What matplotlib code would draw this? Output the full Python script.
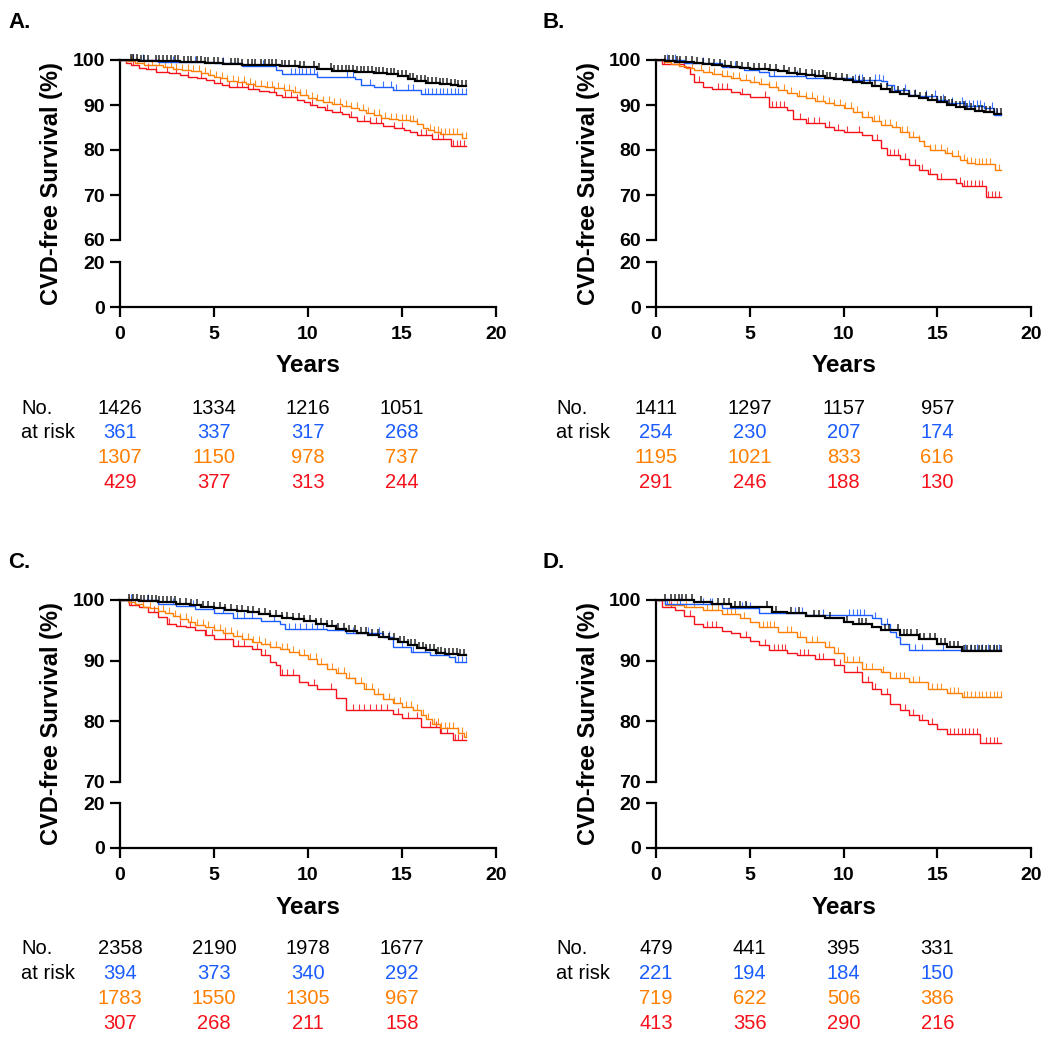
import numpy as np
import matplotlib
matplotlib.use('Agg')
import matplotlib.pyplot as plt
from matplotlib.path import Path
from matplotlib.transforms import blended_transform_factory

plt.rcParams['font.family'] = ['Liberation Sans', 'DejaVu Sans']

W, H = 1050, 1039
COLORS = {'black': '#000000', 'blue': '#1a5cff', 'orange': '#ff7f00', 'red': '#f5101a'}
DRAW_ORDER = ['red', 'orange', 'blue', 'black']
TABLE_ORDER = ['black', 'blue', 'orange', 'red']
END_TIME = 18.4
RISK_TIMES = [0, 5, 10, 15]
X_TICKS = [0, 5, 10, 15, 20]

# ---------------- Panel A ----------------
A_black_t = [0, 1.0, 2.0, 3.2, 4.5, 5.5, 6.5, 7.5, 8.5, 9.5, 10.5, 11.3, 12.5, 13.5, 14.2, 14.8, 15.3, 15.7, 16.3, 17.0, 17.6, 18.0]
A_black_s = [100, 99.8, 99.7, 99.5, 99.3, 99.1, 99.0, 98.8, 98.6, 98.4, 98.1, 97.6, 97.4, 97.2, 96.8, 96.4, 95.8, 95.3, 95.0, 94.7, 94.4, 94.3]
A_blue_t = [0, 2.0, 5.0, 6.5, 8.3, 8.6, 10.5, 12.5, 12.8, 13.5, 14.5, 16.0]
A_blue_s = [100, 99.6, 99.3, 98.7, 97.8, 96.9, 96.3, 95.7, 94.4, 93.9, 93.3, 92.5]
A_orange_t = [0, 0.3, 0.8, 1.3, 1.8, 2.3, 2.8, 3.3, 3.8, 4.3, 4.7, 5.0, 5.3, 5.7, 6.2, 6.7, 7.2, 7.7, 8.2, 8.7,
              9.2, 9.6, 10.0, 10.4, 10.8, 11.3, 11.8, 12.3, 12.7, 13.1, 13.5, 13.9, 14.3, 14.8, 15.4, 15.8,
              16.1, 16.4, 16.7, 17.0, 18.2]
A_orange_s = [100, 99.7, 99.4, 99.0, 98.8, 98.4, 98.1, 97.8, 97.5, 97.2, 96.7, 96.3, 95.9, 95.4, 95.1, 94.7,
              94.3, 94.0, 93.7, 93.3, 92.8, 92.2, 91.6, 91.1, 90.6, 90.3, 89.8, 89.3, 88.8, 88.3, 87.7, 87.2,
              86.8, 86.6, 86.4, 85.8, 85.0, 84.4, 84.0, 83.6, 82.6]
A_red_t = [0, 0.3, 0.6, 1.0, 1.4, 1.9, 2.6, 3.2, 3.6, 4.1, 4.6, 5.0, 5.4, 5.8, 6.8, 7.4, 7.9, 8.3, 8.6, 9.4,
           9.8, 10.1, 10.5, 10.9, 11.3, 11.8, 12.2, 12.6, 13.3, 14.0, 14.6, 15.1, 15.4, 15.8, 16.6, 17.6]
A_red_s = [100, 99.4, 98.9, 98.3, 97.9, 97.4, 97.1, 96.7, 96.2, 95.9, 95.5, 95.0, 94.4, 93.9, 93.6, 93.2,
           92.8, 92.2, 91.7, 91.2, 90.6, 89.9, 89.5, 89.0, 88.5, 88.0, 87.4, 86.4, 86.0, 85.4, 85.0, 84.5,
           84.0, 83.3, 82.4, 80.9]
A_black_c = [0.6, 0.7, 0.9, 1.1, 1.3, 1.5, 1.9, 2.1, 2.3, 2.5, 2.7, 2.9, 3.1, 3.4, 3.6, 3.8, 4.1, 4.3, 4.5,
             4.7, 5.0, 5.2, 5.5, 5.9, 6.1, 6.3, 6.5, 6.8, 7.0, 7.2, 7.5, 7.7, 7.9, 8.1, 8.3, 8.6, 8.8, 9.0,
             9.3, 9.6, 9.8, 10.3, 10.6, 11.2, 11.4, 11.6, 11.8, 12.0, 12.2, 12.4, 12.6, 12.8, 13.0, 13.2,
             13.4, 13.6, 13.8, 14.0, 14.2, 14.4, 14.6, 14.8, 15.0, 15.2, 15.4, 15.6, 15.8, 16.0, 16.2, 16.4,
             16.6, 16.8, 17.0, 17.2, 17.4, 17.6, 17.8, 18.0, 18.2, 18.4]
A_blue_c = [0.7, 1.2, 2.8, 4.0, 5.5, 7.6, 9.1, 9.3, 9.5, 9.7, 9.9, 10.1, 10.3, 10.5, 12.1, 12.4, 13.3, 14.0,
            14.4, 14.7, 15.3, 15.6, 16.2, 16.4, 16.6, 16.8, 17.0, 17.2, 17.4, 17.6, 17.8, 18.0, 18.2, 18.4]
A_orange_c = [0.6, 0.9, 1.3, 1.7, 2.1, 2.4, 2.7, 3.0, 3.3, 3.6, 3.9, 4.2, 4.5, 4.8, 5.1, 5.4, 5.7, 6.0, 6.3,
              6.6, 6.9, 7.2, 7.5, 7.8, 8.1, 8.4, 8.7, 9.0, 9.3, 9.6, 9.9, 10.2, 10.5, 10.8, 11.1, 11.4, 11.7,
              12.0, 12.3, 12.6, 12.9, 13.2, 13.5, 13.8, 14.1, 14.4, 14.7, 15.0, 15.2, 15.4, 15.6, 15.8, 16.5,
              16.7, 16.9, 17.1, 17.3, 17.5, 17.7, 17.9, 18.2, 18.4]
A_red_c = [0.7, 1.5, 1.9, 2.5, 3.0, 3.6, 4.3, 5.3, 5.8, 6.2, 6.5, 6.8, 7.1, 8.2, 8.8, 9.1, 9.4, 10.2, 11.0,
           11.7, 12.3, 13.0, 13.3, 13.6, 13.9, 14.6, 15.0, 16.0, 16.3, 16.6, 16.9, 17.2, 17.7, 17.9, 18.1, 18.3]
A_risk_black = [1426, 1334, 1216, 1051]
A_risk_blue = [361, 337, 317, 268]
A_risk_orange = [1307, 1150, 978, 737]
A_risk_red = [429, 377, 313, 244]

# ---------------- Panel B ----------------
B_black_t = [0, 0.5, 1, 1.5, 2, 2.5, 3, 3.5, 4, 4.5, 5, 5.5, 6, 6.5, 7, 7.5, 8, 8.5, 9, 9.5, 10, 10.5, 11,
             11.5, 12, 12.5, 13, 13.5, 14, 14.5, 15, 15.5, 16, 16.5, 17, 17.5, 18]
B_black_s = [100, 99.8, 99.6, 99.45, 99.3, 99.1, 98.9, 98.7, 98.5, 98.3, 98.1, 97.95, 97.8, 97.5, 97.2, 96.95,
             96.7, 96.4, 96.1, 95.85, 95.6, 95.2, 94.8, 94.2, 93.5, 92.9, 92.4, 91.9, 91.5, 91.1, 90.7, 90.1,
             89.6, 89.1, 88.7, 88.4, 88.0]
B_blue_t = [0, 1.5, 3.5, 4.7, 5.5, 6.0, 8.0, 10.5, 12.0, 12.3, 12.7, 13.5, 14.0, 15.0, 15.5, 16.5, 17.5, 18.0]
B_blue_s = [100, 99.3, 98.5, 97.8, 97.4, 96.4, 95.9, 95.6, 95.3, 94.4, 93.3, 92.2, 91.9, 91.1, 90.4, 89.8, 89.3, 87.8]
B_orange_t = [0, 0.4, 0.8, 1.2, 1.6, 2.0, 2.5, 3.0, 3.5, 4.0, 4.5, 5.0, 5.5, 6.0, 6.5, 7.0, 7.5, 8.0, 8.5,
              9.0, 9.5, 10.0, 10.5, 11.0, 11.5, 12.0, 12.6, 13.0, 13.5, 14.0, 14.3, 14.6, 15.4, 15.8, 16.2,
              16.6, 17.0, 18.1]
B_orange_s = [100, 99.5, 99.1, 98.7, 98.3, 97.8, 97.4, 96.9, 96.4, 95.9, 95.6, 95.2, 94.6, 93.9, 93.3, 92.7,
              92.1, 91.5, 91.0, 90.4, 89.9, 89.3, 88.4, 87.4, 86.5, 85.6, 85.2, 84.0, 83.0, 81.9, 81.0, 80.0,
              79.4, 78.6, 77.8, 77.2, 76.8, 75.6]
B_red_t = [0, 0.3, 1.5, 1.8, 2.0, 2.5, 3, 4, 4.5, 5, 6.0, 7, 7.3, 8, 9, 9.5, 10, 11, 11.5, 12, 12.3, 13,
           13.5, 14, 14.5, 15, 16, 16.3, 17.6]
B_red_s = [100, 99.1, 98.5, 97.0, 95.2, 93.9, 93.5, 93.0, 92.4, 91.7, 89.6, 88.9, 87.0, 86.1, 85.2, 84.4, 83.9,
           83.3, 82.2, 80.4, 78.9, 78.1, 76.7, 75.6, 74.7, 73.5, 72.7, 71.9, 69.6]
B_black_c = [0.5, 0.7, 0.9, 1.1, 1.3, 1.6, 1.9, 2.2, 2.5, 2.8, 3.1, 3.4, 3.7, 4.0, 4.3, 4.6, 4.9, 5.2, 5.5,
             5.8, 6.1, 6.4, 6.8, 7.1, 7.4, 7.7, 8.0, 8.3, 8.5, 8.7, 8.9, 9.1, 9.3, 9.6, 9.9, 10.2, 10.5,
             10.8, 11.1, 11.4, 11.7, 12.0, 12.3, 12.6, 12.9, 13.2, 13.5, 13.8, 14.1, 14.4, 14.7, 15.0, 15.2,
             15.4, 15.6, 15.8, 16.0, 16.2, 16.4, 16.6, 16.8, 17.0, 17.2, 17.4, 17.6, 17.8, 18.0, 18.2, 18.4]
B_blue_c = [0.6, 1.0, 2.5, 4.2, 6.3, 7.5, 8.5, 10.6, 10.8, 11.0, 11.7, 11.9, 12.1, 13.3, 13.8, 14.4, 14.9,
            15.3, 15.8, 16.3, 16.5, 16.7, 16.9, 17.1, 17.3, 17.5, 17.9, 18.2]
B_orange_c = [0.6, 1.2, 1.9, 2.4, 2.8, 3.1, 3.5, 3.8, 4.1, 4.4, 4.8, 5.2, 5.6, 6.0, 6.4, 6.8, 7.2, 7.6, 8.0,
              8.3, 8.6, 8.9, 9.2, 9.5, 9.8, 10.1, 10.4, 10.7, 11.0, 11.3, 11.6, 11.9, 12.2, 12.5, 12.8, 13.1,
              13.4, 13.7, 14.0, 14.3, 14.6, 14.9, 15.2, 15.5, 15.8, 16.1, 16.4, 16.6, 16.8, 17.0, 17.2, 17.4,
              17.6, 17.8, 18.1, 18.3]
B_red_c = [0.4, 1.2, 2.3, 3.3, 3.5, 3.8, 4.6, 5.8, 6.2, 6.4, 6.6, 6.8, 7.7, 8.1, 8.4, 8.7, 9.2, 9.7, 10.2,
           10.8, 11.8, 12.5, 12.7, 12.9, 13.3, 13.8, 14.2, 14.6, 15.2, 16.2, 16.4, 16.6, 16.8, 17.0, 17.2,
           17.4, 17.7, 17.9, 18.1, 18.3]
B_risk_black = [1411, 1297, 1157, 957]
B_risk_blue = [254, 230, 207, 174]
B_risk_orange = [1195, 1021, 833, 616]
B_risk_red = [291, 246, 188, 130]

# ---------------- Panel C ----------------
C_black_t = [0, 1.0, 2.0, 3.0, 3.7, 4.3, 5.0, 5.6, 6.2, 6.8, 7.4, 8.0, 8.6, 9.2, 9.8, 10.4, 11.0, 11.5, 12.0,
             12.6, 13.2, 13.8, 14.3, 14.8, 15.3, 15.8, 16.3, 16.8, 17.3, 18.0]
C_black_s = [100, 99.85, 99.7, 99.4, 99.1, 98.85, 98.6, 98.4, 98.2, 97.95, 97.7, 97.3, 97.0, 96.8, 96.5, 96.1,
             95.7, 95.3, 94.9, 94.6, 94.3, 93.9, 93.5, 93.1, 92.6, 92.1, 91.7, 91.3, 91.1, 90.9]
C_blue_t = [0, 2, 3, 4, 5, 6, 7.5, 8.5, 8.8, 11, 12, 14, 14.5, 15.5, 16.5, 17.5, 17.8]
C_blue_s = [100, 99.4, 99.0, 98.5, 97.9, 97.1, 96.6, 96.1, 95.3, 95.0, 94.6, 93.9, 92.3, 91.5, 90.9, 90.6, 89.8]
C_orange_t = [0, 0.4, 0.8, 1.2, 1.6, 2.0, 2.4, 2.8, 3.2, 3.6, 4.0, 4.5, 5.0, 5.5, 6.0, 6.5, 7.0, 7.5, 8.0,
              8.5, 9.0, 9.5, 10.0, 10.5, 11.0, 11.5, 12.0, 12.5, 13.0, 13.5, 14.0, 14.5, 15.0, 15.6, 16.0,
              16.3, 16.6, 17.0, 18.0, 18.3]
C_orange_s = [100, 99.6, 99.3, 98.9, 98.6, 98.2, 97.8, 97.3, 96.9, 96.4, 95.9, 95.5, 95.0, 94.6, 94.1, 93.6,
              93.1, 92.7, 92.3, 91.9, 91.5, 90.9, 90.2, 89.5, 88.7, 87.9, 87.1, 86.3, 85.4, 84.5, 83.6, 83.0,
              82.3, 81.8, 81.0, 80.4, 79.6, 78.9, 78.0, 77.5]
C_red_t = [0, 0.5, 1, 1.5, 2, 2.5, 3, 3.5, 4, 4.5, 5, 6, 7, 7.5, 8, 8.3, 8.5, 9.5, 10, 10.5, 11.5, 12, 14.5,
           15, 16, 17, 17.7]
C_red_s = [100, 99.2, 98.9, 98.1, 97.2, 96.1, 95.7, 95.5, 95.0, 94.2, 93.5, 92.4, 92.0, 90.9, 89.8, 89.3,
           87.6, 86.5, 86.0, 85.4, 83.8, 81.8, 81.2, 80.6, 79.0, 78.1, 77.0]
C_black_c = [0.5, 0.7, 0.9, 1.1, 1.3, 1.5, 1.7, 1.9, 2.1, 2.3, 2.5, 2.7, 2.9, 3.2, 3.5, 3.8, 4.1, 4.4, 4.7,
             5.0, 5.3, 5.6, 5.9, 6.2, 6.5, 6.8, 7.1, 7.4, 7.7, 8.0, 8.3, 8.6, 8.9, 9.2, 9.5, 9.8, 10.1,
             10.4, 10.7, 11.0, 11.3, 11.6, 11.9, 12.2, 12.5, 12.8, 13.1, 13.4, 13.7, 14.0, 14.3, 14.6, 14.9,
             15.1, 15.3, 15.5, 15.7, 15.9, 16.1, 16.3, 16.5, 16.7, 16.9, 17.1, 17.3, 17.5, 17.7, 17.9, 18.1, 18.3]
C_blue_c = [0.6, 1.5, 2.8, 3.9, 5.5, 6.2, 6.6, 7.0, 8.2, 9.0, 9.3, 9.6, 9.9, 10.2, 10.5, 10.8, 11.5, 12.4,
            13.2, 13.8, 14.3, 15.0, 15.6, 16.2, 16.8, 17.3, 17.8, 18.0, 18.2, 18.4]
C_orange_c = [0.5, 0.8, 1.2, 1.6, 2.0, 2.3, 2.6, 2.9, 3.2, 3.5, 3.8, 4.1, 4.4, 4.7, 5.0, 5.3, 5.6, 5.9, 6.2,
              6.5, 6.8, 7.1, 7.4, 7.7, 8.0, 8.3, 8.6, 8.9, 9.2, 9.5, 9.8, 10.1, 10.4, 10.7, 11.0, 11.3, 11.6,
              11.9, 12.2, 12.5, 12.8, 13.1, 13.4, 13.7, 14.0, 14.3, 14.6, 14.9, 15.2, 15.5, 15.8, 16.1, 16.4,
              16.7, 16.9, 17.1, 17.3, 17.5, 17.7, 18.0, 18.2, 18.4]
C_red_c = [0.6, 1.8, 2.6, 3.2, 3.7, 4.6, 4.9, 5.6, 6.3, 6.6, 7.3, 7.7, 8.6, 8.9, 9.2, 10.3, 11.2, 12.4,
           12.7, 13.0, 13.3, 13.6, 13.9, 14.2, 14.8, 15.3, 15.8, 16.5, 16.8, 17.1, 17.4, 17.8, 18.0, 18.2]
C_risk_black = [2358, 2190, 1978, 1677]
C_risk_blue = [394, 373, 340, 292]
C_risk_orange = [1783, 1550, 1305, 967]
C_risk_red = [307, 268, 211, 158]

# ---------------- Panel D ----------------
D_black_t = [0, 2, 3, 4, 6.2, 7, 8, 9, 10, 10.5, 11.5, 12, 13, 14, 15, 15.5, 16.3]
D_black_s = [100, 99.7, 99.3, 98.9, 98.1, 97.8, 97.4, 97.0, 96.3, 96.0, 95.6, 95.0, 94.2, 93.5, 92.7, 92.2, 91.6]
D_blue_t = [0, 0.5, 3.5, 5.5, 8.0, 11.5, 12.0, 12.5, 12.8, 13.0, 13.5]
D_blue_s = [100, 99.4, 98.6, 97.9, 97.5, 97.0, 96.1, 94.8, 93.9, 92.8, 91.7]
D_orange_t = [0, 0.5, 1.5, 2.5, 3.5, 4.5, 5, 5.5, 6.5, 7.5, 8, 9, 9.5, 10, 11, 12, 12.5, 13.5, 14.5, 15.5, 16.3]
D_orange_s = [100, 99.2, 98.8, 98.3, 97.7, 97.0, 96.3, 95.6, 94.8, 93.9, 93.0, 92.3, 91.2, 89.8, 88.7, 88.2,
              87.1, 86.5, 85.4, 84.6, 84.0]
D_red_t = [0, 0.3, 1, 1.5, 2, 2.5, 3.5, 4, 4.5, 5, 5.5, 6, 7, 7.5, 8.5, 9.5, 10, 11, 11.5, 12, 12.5, 13,
           13.5, 14, 14.5, 15, 15.5, 17.3]
D_red_s = [100, 98.9, 98.3, 97.4, 96.0, 95.6, 94.9, 94.5, 93.9, 93.3, 92.6, 91.7, 91.3, 90.9, 90.2, 89.3,
           88.2, 86.5, 85.3, 84.5, 82.9, 81.9, 81.0, 80.2, 79.5, 78.8, 77.9, 76.5]
D_black_c = [0.5, 0.8, 1.0, 1.2, 1.4, 1.6, 1.9, 2.4, 3.3, 3.6, 3.9, 4.2, 4.5, 4.8, 5.9, 6.4, 7.2, 7.6, 8.4,
             8.7, 9.3, 10.2, 10.8, 11.0, 11.2, 12.2, 12.4, 12.9, 13.2, 13.4, 13.6, 13.9, 14.1, 14.3, 14.6,
             14.9, 15.2, 15.4, 15.7, 15.9, 16.1, 16.4, 16.6, 16.8, 17.0, 17.2, 17.4, 17.6, 17.8, 18.0, 18.2, 18.4]
D_blue_c = [0.6, 1.3, 2.5, 2.9, 3.0, 4.6, 4.8, 5.0, 7.4, 7.8, 8.9, 10.3, 10.5, 10.7, 10.9, 11.1, 11.7, 12.3,
            13.8, 14.2, 15.3, 16.5, 16.8, 17.1, 17.4, 17.7, 18.0, 18.3]
D_orange_c = [0.7, 1.1, 1.6, 2.0, 2.7, 3.0, 3.3, 3.8, 4.0, 4.2, 4.7, 5.7, 5.9, 6.1, 6.3, 7.0, 7.2, 7.7, 8.3,
              8.6, 9.2, 9.7, 10.2, 10.5, 10.8, 11.2, 11.5, 12.1, 12.8, 13.0, 13.2, 13.7, 14.0, 14.7, 15.0,
              15.2, 15.7, 15.9, 16.1, 16.4, 16.6, 16.8, 17.0, 17.2, 17.4, 17.6, 17.8, 18.0, 18.2, 18.4]
D_red_c = [0.8, 1.8, 2.7, 3.0, 3.2, 4.8, 5.8, 6.3, 6.5, 6.7, 6.9, 7.7, 7.9, 8.1, 8.7, 8.9, 9.8, 10.7, 11.3,
           11.7, 12.3, 13.3, 13.7, 14.2, 14.7, 15.7, 15.9, 16.1, 16.3, 16.5, 16.7, 16.9, 17.1, 17.6, 17.8, 18.0, 18.2]
D_risk_black = [479, 441, 395, 331]
D_risk_blue = [221, 194, 184, 150]
D_risk_orange = [719, 622, 506, 386]
D_risk_red = [413, 356, 290, 216]

PANELS = [
    dict(label='A.', curves={'black': (A_black_t, A_black_s), 'blue': (A_blue_t, A_blue_s),
                             'orange': (A_orange_t, A_orange_s), 'red': (A_red_t, A_red_s)},
         cens={'black': A_black_c, 'blue': A_blue_c, 'orange': A_orange_c, 'red': A_red_c},
         risk={'black': A_risk_black, 'blue': A_risk_blue, 'orange': A_risk_orange, 'red': A_risk_red},
         ylo=60, yticks=[60, 70, 80, 90, 100]),
    dict(label='B.', curves={'black': (B_black_t, B_black_s), 'blue': (B_blue_t, B_blue_s),
                             'orange': (B_orange_t, B_orange_s), 'red': (B_red_t, B_red_s)},
         cens={'black': B_black_c, 'blue': B_blue_c, 'orange': B_orange_c, 'red': B_red_c},
         risk={'black': B_risk_black, 'blue': B_risk_blue, 'orange': B_risk_orange, 'red': B_risk_red},
         ylo=60, yticks=[60, 70, 80, 90, 100]),
    dict(label='C.', curves={'black': (C_black_t, C_black_s), 'blue': (C_blue_t, C_blue_s),
                             'orange': (C_orange_t, C_orange_s), 'red': (C_red_t, C_red_s)},
         cens={'black': C_black_c, 'blue': C_blue_c, 'orange': C_orange_c, 'red': C_red_c},
         risk={'black': C_risk_black, 'blue': C_risk_blue, 'orange': C_risk_orange, 'red': C_risk_red},
         ylo=70, yticks=[70, 80, 90, 100]),
    dict(label='D.', curves={'black': (D_black_t, D_black_s), 'blue': (D_blue_t, D_blue_s),
                             'orange': (D_orange_t, D_orange_s), 'red': (D_red_t, D_red_s)},
         cens={'black': D_black_c, 'blue': D_blue_c, 'orange': D_orange_c, 'red': D_red_c},
         risk={'black': D_risk_black, 'blue': D_risk_blue, 'orange': D_risk_orange, 'red': D_risk_red},
         ylo=70, yticks=[70, 80, 90, 100]),
]

# layout in pixels: (axis x0, axis x1, upper top, upper bottom, lower top, lower bottom, text left x, label y)
LAYOUT = [
    (120, 496, 60, 240, 262, 307, 21, 22),
    (656, 1031, 60, 240, 262, 307, 556, 22),
    (120, 496, 600, 782, 803, 848, 21, 563),
    (656, 1031, 600, 782, 803, 848, 556, 563),
]

TICK_PATH = Path([(0, 0), (0, 1)])
SPINE_W = 1.6


def rect(x0, x1, yt, yb):
    return [x0 / W, 1 - yb / H, (x1 - x0) / W, (yb - yt) / H]


def style_ticklabels(ax, size=14):
    for lbl in ax.get_xticklabels() + ax.get_yticklabels():
        lbl.set_fontweight('bold')
        lbl.set_fontsize(size)


fig = plt.figure(figsize=(W / 100, H / 100), dpi=100)

for p, (x0, x1, ut, ub, lt, lb, tx, ly) in zip(PANELS, LAYOUT):
    axu = fig.add_axes(rect(x0, x1, ut, ub))
    axl = fig.add_axes(rect(x0, x1, lt, lb))

    for ax in (axu, axl):
        ax.set_xlim(0, 20)
        ax.patch.set_alpha(0)
        for s in ('top', 'right'):
            ax.spines[s].set_visible(False)
        ax.spines['left'].set_linewidth(SPINE_W)
        ax.spines['bottom'].set_linewidth(SPINE_W)
        ax.tick_params(width=SPINE_W, length=7.5, pad=3.5)

    axu.spines['bottom'].set_visible(False)
    axu.set_xticks([])
    axu.set_ylim(p['ylo'], 100)
    axu.set_yticks(p['yticks'])
    style_ticklabels(axu)

    axl.set_ylim(0, 20)
    axl.set_yticks([0, 20])
    axl.set_xticks(X_TICKS)
    axl.tick_params(axis='x', length=7.5, pad=6.5)
    style_ticklabels(axl)

    for g in DRAW_ORDER:
        t, s = p['curves'][g]
        tt = list(t) + [END_TIME]
        ss = list(s) + [s[-1]]
        lw = 1.6 if g == 'black' else 1.0
        axu.plot(tt, ss, drawstyle='steps-post', color=COLORS[g], lw=lw, clip_on=False,
                 solid_joinstyle='miter', zorder=3)
        c = np.asarray(p['cens'][g])
        idx = np.searchsorted(np.asarray(t), c, side='right') - 1
        cy = np.asarray(s)[idx]
        axu.plot(c, cy, ls='none', marker=TICK_PATH, markersize=8,
                 markeredgewidth=1.1 if g == 'black' else 0.8,
                 color=COLORS[g], alpha=0.85, clip_on=False, zorder=3)

    # axis labels
    fig.text((x0 - 68) / W, 1 - ((ut + lb) / 2) / H, 'CVD-free Survival (%)', rotation=90,
             ha='center', va='center', fontsize=17, fontweight='bold')
    trans = blended_transform_factory(axl.transData, fig.transFigure)
    fig.text(10, 1 - (lb + 59) / H, 'Years', transform=trans, ha='center', va='center',
             fontsize=17.5, fontweight='bold')

    # panel label
    fig.text((tx - 13) / W, 1 - ly / H, p['label'], ha='left', va='center',
             fontsize=16, fontweight='bold')

    # risk table
    row0 = lb + 101
    fig.text(tx / W, 1 - row0 / H, 'No.', ha='left', va='center', fontsize=14.5)
    fig.text(tx / W, 1 - (row0 + 24.7) / H, 'at risk', ha='left', va='center', fontsize=14.5)
    for r, g in enumerate(TABLE_ORDER):
        for xt, v in zip(RISK_TIMES, p['risk'][g]):
            fig.text(xt, 1 - (row0 + 24.7 * r) / H, str(v), transform=trans, ha='center',
                     va='center', fontsize=14.5, color=COLORS[g])

fig.savefig('out.png', dpi=100)
